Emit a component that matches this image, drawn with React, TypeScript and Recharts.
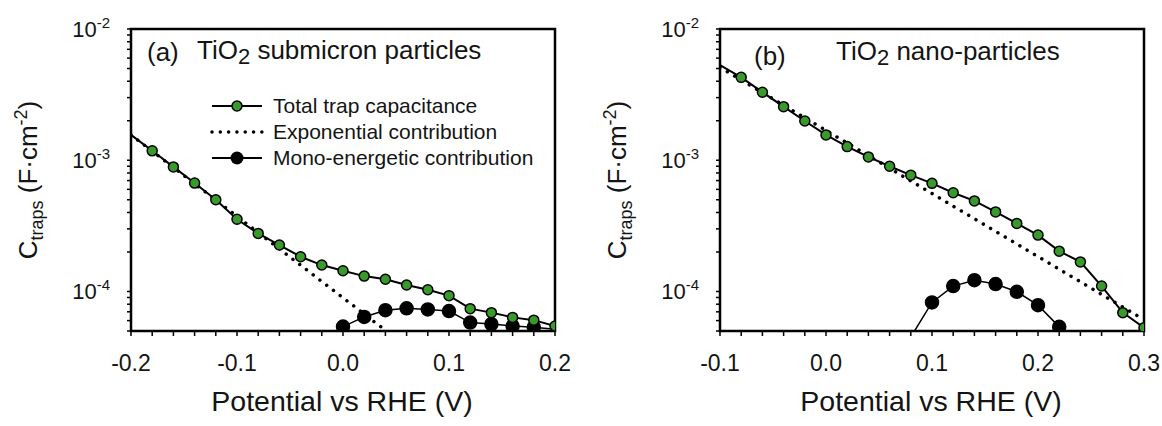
import React from 'react';
import { ComposedChart, Line, XAxis, YAxis, ReferenceArea } from 'recharts';

const FONT = '"Liberation Sans", Arial, Helvetica, sans-serif';
const INK = '#141414';
const GREEN = '#379a2b';

// shared log axis
const Y_MIN = 5e-5;
const Y_MAX = 1e-2;
const yTicks = [
  5e-5, 6e-5, 7e-5, 8e-5, 9e-5,
  1e-4, 2e-4, 3e-4, 4e-4, 5e-4, 6e-4, 7e-4, 8e-4, 9e-4,
  1e-3, 2e-3, 3e-3, 4e-3, 5e-3, 6e-3, 7e-3, 8e-3, 9e-3,
  1e-2,
];

const legendLabels = ['Total trap capacitance', 'Exponential contribution', 'Mono-energetic contribution'];

// (a) TiO2 submicron particles
const xTicksA = [-0.2, -0.18, -0.16, -0.14, -0.12, -0.1, -0.08, -0.06, -0.04, -0.02, 0, 0.02, 0.04, 0.06, 0.08, 0.1, 0.12, 0.14, 0.16, 0.18, 0.2];
const potentialA = [-0.2, -0.18, -0.16, -0.14, -0.12, -0.1, -0.08, -0.06, -0.04, -0.02, 0, 0.02, 0.04, 0.06, 0.08, 0.1, 0.12, 0.14, 0.16, 0.18, 0.2];
const totalA = [1.56e-3, 1.18e-3, 8.9e-4, 6.7e-4, 5.0e-4, 3.55e-4, 2.77e-4, 2.26e-4, 1.84e-4, 1.59e-4, 1.44e-4, 1.31e-4, 1.24e-4, 1.12e-4, 1.03e-4, 9.3e-5, 7.4e-5, 6.9e-5, 6.35e-5, 6.05e-5, 5.45e-5];
const expPotentialA = [-0.2, 0.04];
const expA = [1.56e-3, 5.06e-5];
const monoPotentialA = [0, 0.02, 0.04, 0.06, 0.08, 0.1, 0.12, 0.14, 0.16, 0.18, 0.2];
const monoA = [5.4e-5, 6.4e-5, 7.2e-5, 7.45e-5, 7.3e-5, 7.1e-5, 5.8e-5, 5.65e-5, 5.45e-5, 5.35e-5, 5.15e-5];

// (b) TiO2 nano-particles
const xTicksB = [-0.1, -0.08, -0.06, -0.04, -0.02, 0, 0.02, 0.04, 0.06, 0.08, 0.1, 0.12, 0.14, 0.16, 0.18, 0.2, 0.22, 0.24, 0.26, 0.28, 0.3];
const potentialB = [-0.1, -0.08, -0.06, -0.04, -0.02, 0, 0.02, 0.04, 0.06, 0.08, 0.1, 0.12, 0.14, 0.16, 0.18, 0.2, 0.22, 0.24, 0.26, 0.28, 0.3];
const totalB = [5.3e-3, 4.28e-3, 3.3e-3, 2.56e-3, 1.99e-3, 1.56e-3, 1.27e-3, 1.06e-3, 9.0e-4, 7.7e-4, 6.67e-4, 5.65e-4, 4.9e-4, 4.04e-4, 3.3e-4, 2.69e-4, 2.03e-4, 1.68e-4, 1.1e-4, 6.9e-5, 5.3e-5];
const expPotentialB = [-0.1, 0.3];
const expB = [5.1e-3, 6.1e-5];
const monoPotentialB = [0.08, 0.1, 0.12, 0.14, 0.16, 0.18, 0.2, 0.22, 0.24];
const monoB = [4.5e-5, 8.26e-5, 1.1e-4, 1.22e-4, 1.14e-4, 9.95e-5, 7.87e-5, 5.38e-5, 4.0e-5];

const toPoints = (xs: number[], ys: number[]) => xs.map((v, i) => ({ v, c: ys[i] }));

const XTick = ({ x, y, payload }: any) => {
  const v = payload.value as number;
  if (Math.abs(v * 10 - Math.round(v * 10)) > 1e-6) return <g />;
  return (
    <text x={x} y={y + 33} textAnchor="middle" fontSize={23} fontFamily={FONT} fill={INK}>
      {v.toFixed(1)}
    </text>
  );
};

const YTick = ({ x, y, payload }: any) => {
  const lg = Math.log10(payload.value);
  const e = Math.round(lg);
  if (Math.abs(lg - e) > 1e-6) return <g />;
  return (
    <text x={x} y={y + 8} textAnchor="end" fontSize={22} fontFamily={FONT} fill={INK}>
      10<tspan fontSize={15} dy={-9}>{`${e}`}</tspan>
    </text>
  );
};

// markers are skipped on the curve ends listed in `bare`
const markerDot = (fill: string, r: number, bare: number[]) => (props: any) => {
  const { cx, cy, index } = props;
  if (bare.includes(index) || cx == null || cy == null) return <g key={`d${index}`} />;
  return <circle key={`d${index}`} cx={cx} cy={cy} r={r} fill={fill} stroke="#000" strokeWidth={1.5} />;
};

type PanelProps = {
  tag: string;
  tagPos: [number, number];
  material: string;
  captionPos: [number, number];
  xDomain: [number, number];
  xTicks: number[];
  total: { v: number; c: number }[];
  exp: { v: number; c: number }[];
  mono: { v: number; c: number }[];
  monoBare: number[];
  showLegend: boolean;
};

const Panel = (p: PanelProps) => (
  <ComposedChart width={573} height={426} margin={{ top: 29, right: 18, bottom: 55, left: 71 }}>
    <XAxis
      type="number"
      dataKey="v"
      domain={p.xDomain}
      ticks={p.xTicks}
      interval={0}
      allowDataOverflow
      height={40}
      tickSize={5}
      tickMargin={2}
      axisLine={false}
      tickLine={{ stroke: '#000', strokeWidth: 1.5 }}
      tick={<XTick />}
    />
    <YAxis
      type="number"
      dataKey="c"
      scale="log"
      domain={[Y_MIN, Y_MAX]}
      ticks={yTicks}
      interval={0}
      allowDataOverflow
      width={60}
      tickSize={4}
      tickMargin={17}
      axisLine={false}
      tickLine={{ stroke: '#000', strokeWidth: 1.5 }}
      tick={<YTick />}
    />
    <ReferenceArea
      x1={p.xDomain[0]}
      x2={p.xDomain[1]}
      y1={Y_MIN}
      y2={Y_MAX}
      fill="none"
      stroke="#000"
      strokeWidth={2.5}
      ifOverflow="visible"
    />
    <Line
      data={p.exp}
      dataKey="c"
      stroke="#000"
      strokeWidth={3.5}
      strokeDasharray="0.01 8.5"
      strokeLinecap="round"
      dot={false}
      isAnimationActive={false}
    />
    <Line
      data={p.mono}
      dataKey="c"
      stroke="#000"
      strokeWidth={1.5}
      dot={markerDot('#000', 6.5, p.monoBare)}
      isAnimationActive={false}
    />
    <Line
      data={p.total}
      dataKey="c"
      stroke="#000"
      strokeWidth={2}
      dot={markerDot(GREEN, 5, [0])}
      isAnimationActive={false}
    />

    <text x={p.tagPos[0]} y={p.tagPos[1]} fontSize={26} fontFamily={FONT} fill={INK}>
      {p.tag}
    </text>
    <text x={p.captionPos[0]} y={p.captionPos[1]} fontSize={26} fontFamily={FONT} fill={INK}>
      TiO<tspan fontSize={22} dy={5}>2</tspan>
      <tspan dy={-5}>{` ${p.material}`}</tspan>
    </text>

    {p.showLegend &&
      legendLabels.map((label, i) => {
        const cy = 106 + i * 26;
        return (
          <g key={label}>
            {i === 1 ? (
              <line x1={212} x2={262} y1={cy} y2={cy} stroke="#000" strokeWidth={3.5} strokeDasharray="0.01 8.3" strokeLinecap="round" />
            ) : (
              <line x1={212} x2={262} y1={cy} y2={cy} stroke="#000" strokeWidth={2} />
            )}
            {i === 0 && <circle cx={237} cy={cy} r={5} fill={GREEN} stroke="#000" strokeWidth={1.5} />}
            {i === 2 && <circle cx={237} cy={cy} r={6.5} fill="#000" />}
            <text x={273} y={cy + 7} fontSize={21} fontFamily={FONT} fill={INK}>
              {label}
            </text>
          </g>
        );
      })}

    <text x={342} y={411} textAnchor="middle" fontSize={28.5} fontFamily={FONT} fill={INK}>
      Potential vs RHE (V)
    </text>
    <text x={37} y={180} transform="rotate(-90 37 180)" textAnchor="middle" fontSize={26} fontFamily={FONT} fill={INK}>
      C<tspan fontSize={18} dy={6}>traps</tspan>
      <tspan dy={-6}> (F·cm</tspan>
      <tspan fontSize={18} dy={-10}>-2</tspan>
      <tspan dy={10}>)</tspan>
    </text>
  </ComposedChart>
);

export default function App() {
  return (
    <div style={{ position: 'fixed', left: 0, top: 0, width: 1162, height: 426, background: '#fff' }}>
      <div style={{ position: 'absolute', left: 0, top: 0 }}>
        <Panel
          tag="(a)"
          tagPos={[147, 61]}
          material="submicron particles"
          captionPos={[197, 59]}
          xDomain={[-0.2, 0.2]}
          xTicks={xTicksA}
          total={toPoints(potentialA, totalA)}
          exp={toPoints(expPotentialA, expA)}
          mono={toPoints(monoPotentialA, monoA)}
          monoBare={[monoA.length - 1]}
          showLegend
        />
      </div>
      <div style={{ position: 'absolute', left: 589, top: 0 }}>
        <Panel
          tag="(b)"
          tagPos={[165, 65]}
          material="nano-particles"
          captionPos={[247, 60]}
          xDomain={[-0.1, 0.3]}
          xTicks={xTicksB}
          total={toPoints(potentialB, totalB)}
          exp={toPoints(expPotentialB, expB)}
          mono={toPoints(monoPotentialB, monoB)}
          monoBare={[0, monoB.length - 1]}
          showLegend={false}
        />
      </div>
    </div>
  );
}
